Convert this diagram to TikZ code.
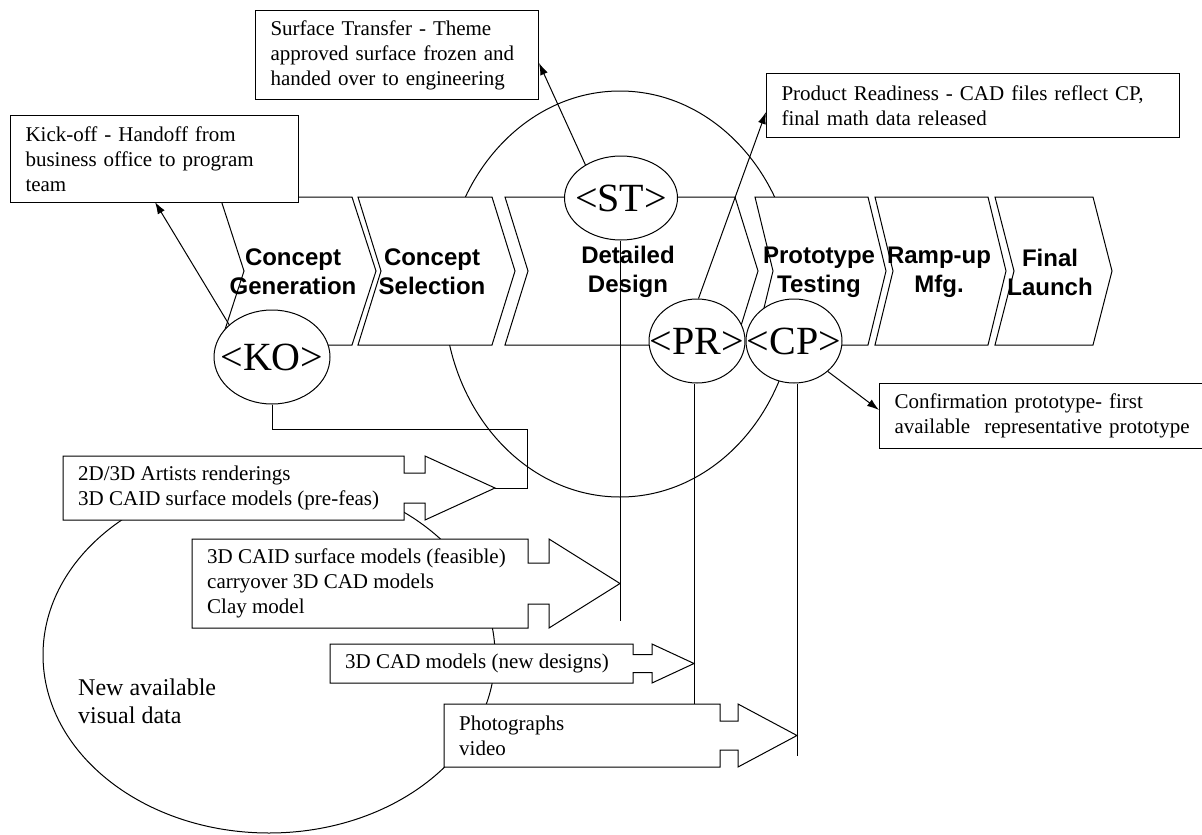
\documentclass[tikz,border=0pt]{standalone}
\usepackage{fontspec}
\setmainfont{Liberation Serif}
\newfontfamily\chevfont{Liberation Sans}
\usetikzlibrary{shapes.geometric,arrows.meta}

\tikzset{
  outline/.style={draw=black, line width=1pt, fill=white},
  wire/.style={draw=black, line width=1pt},
  pointer/.style={wire, -{Latex[length=12pt,width=8pt]}},
  milestone/.style={ellipse, outline, inner sep=0pt},
  mstext/.style={inner sep=0pt, font=\fontsize{40}{40}\selectfont},
  note/.style={rectangle, outline, align=left, inner xsep=15pt, inner ysep=0pt,
               anchor=north west, font=\fontsize{21}{25}\selectfont},
  phase/.style={align=center, inner sep=0pt,
                font=\chevfont\bfseries\fontsize{24}{29}\selectfont},
  calltext/.style={anchor=west, align=left, inner sep=0pt,
                   font=\fontsize{21}{25}\selectfont},
  bigoval/.style={ellipse, draw=black, line width=1pt, inner sep=0pt}
}

% phase chevron: left x, right x, point depth (top 197, bottom 345)
\newcommand\phasechevron[3]{%
  \path[outline] (#1,197) -- (#2,197) -- ({#2+#3},271) -- (#2,345)
    -- (#1,345) -- ({#1+#3},271) -- cycle;}

% data callout arrow: left, top, bottom, box right, shaft right, shaft half height, tip x
\newcommand\datacallout[7]{%
  \path[outline] (#1,#2) -- (#4,#2) -- (#4,{(#2+#3)/2-#6}) -- (#5,{(#2+#3)/2-#6})
    -- (#5,#2) -- (#7,{(#2+#3)/2}) -- (#5,#3) -- (#5,{(#2+#3)/2+#6})
    -- (#4,{(#2+#3)/2+#6}) -- (#4,#3) -- (#1,#3) -- cycle;}

\begin{document}
\begin{tikzpicture}[x=1pt,y=-1pt]
\useasboundingbox (0,0) rectangle (1202,835);

% background ovals
\node[bigoval, minimum width=352pt, minimum height=406pt] (design) at (620,294) {};
\node[bigoval, minimum width=452pt, minimum height=356pt] (visual) at (269,655) {};
\node[anchor=west, align=left, inner sep=0pt, font=\fontsize{24}{28}\selectfont]
  (visuallabel) at (78,701) {New available\\visual data};

% process phases
\phasechevron{220}{352}{24}
\phasechevron{358}{492}{23}
\phasechevron{505}{735}{23}
\phasechevron{755}{868}{18}
\phasechevron{875}{988}{18}
\phasechevron{995}{1093}{19}
\node[phase] (ph1) at (293,272) {Concept\\Generation};
\node[phase] (ph2) at (432,272) {Concept\\Selection};
\node[phase] (ph3) at (628,272) {Detailed\\Design};
\node[phase] (ph4) at (819,272) {Prototype\\Testing};
\node[phase] (ph5) at (939,272) {Ramp-up\\Mfg.};
\node[phase] (ph6) at (1050,272) {Final\\Launch};

% visual data callouts
\datacallout{63}{456}{520}{404}{425}{15}{495}
\coordinate (a1tip) at (495,488);
\node[calltext] (a1) at (78,488) {2D/3D Artists renderings\\3D CAID surface models (pre-feas)};

\datacallout{192}{539}{628}{528}{549}{20.5}{620}
\coordinate (a2tip) at (620,583.5);
\node[calltext] (a2) at (207,583.5) {3D CAID surface models (feasible)\\carryover 3D CAD models\\Clay model};

\datacallout{330}{644}{683}{633}{652}{9}{694}
\coordinate (a3tip) at (694,663.5);
\node[calltext] (a3) at (345,663.5) {3D CAD models (new designs)};

\datacallout{444}{704}{767}{720}{738}{14.5}{797}
\coordinate (a4tip) at (797,735.5);
\coordinate (a4top) at (694,704);
\node[calltext] (a4) at (459,735.5) {Photographs\\video};

% milestones
\node[milestone, minimum width=116pt, minimum height=94pt] (KO) at (272,357) {};
\node[milestone, minimum width=113pt, minimum height=84pt] (ST) at (621,198) {};
\node[milestone, minimum width=96pt, minimum height=84pt] (PR) at (697,341) {};
\node[milestone, minimum width=96pt, minimum height=84pt] (CP) at (794,341) {};
\node[mstext] (KOt) at (KO.center) {<KO>};
\node[mstext] (STt) at (ST.center) {<ST>};
\node[mstext] (PRt) at (PR.center) {<PR>};
\node[mstext] (CPt) at (CP.center) {<CP>};

% milestone to data links
\coordinate (kobend) at (527,429);
\coordinate (v1end) at (620,621);
\coordinate (v3end) at (797,756);
\draw[wire] (KO.south) |- (kobend) |- (a1tip);
\draw[wire] (a2tip |- ST.south) -- (v1end);
\draw[wire] (a3tip |- PR.south) -- (a4top);
\draw[wire] (a4tip |- CP.south) -- (v3end);

% milestone descriptions
\node[note, minimum width=288pt, minimum height=87pt, text width=258pt] (kickoff) at (10,115)
  {Kick-off - Handoff from\\business office to program\\team};
\node[note, minimum width=283pt, minimum height=89pt, text width=253pt] (stnote) at (255,10)
  {Surface Transfer - Theme\\approved surface frozen and\\handed over to engineering};
\node[note, minimum width=413pt, minimum height=64pt, text width=383pt] (prnote) at (766,73)
  {Product Readiness - CAD files reflect CP,\\final math data released};
\node[note, minimum width=336pt, minimum height=65pt, text width=306pt] (cpnote) at (879,383)
  {Confirmation prototype- first\\available\ \ representative prototype};

% pointers to descriptions
\coordinate (kotip) at (155,202);
\coordinate (sttip) at (539,63);
\coordinate (prtip) at (766,112);
\coordinate (cptip) at (879,410);
\draw[pointer] (KO.143) -- (kotip);
\draw[pointer] (ST.137) -- (sttip);
\draw[pointer] (PR.88) -- (prtip);
\draw[pointer] (CP.-42) -- (cptip);
\end{tikzpicture}
\end{document}
